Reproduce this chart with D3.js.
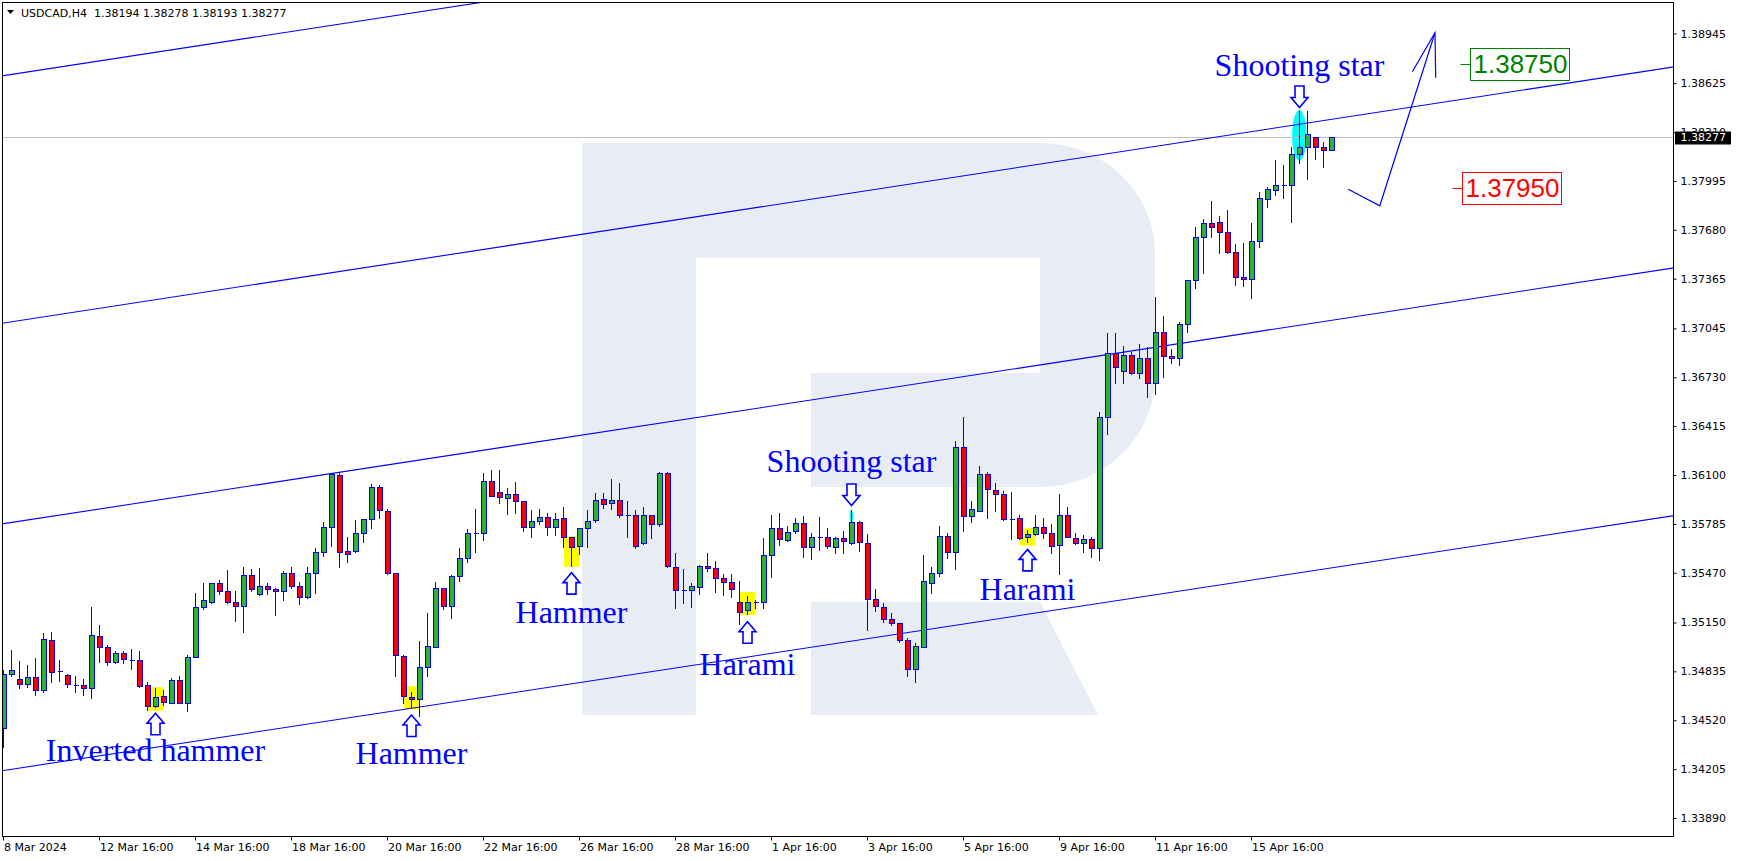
<!DOCTYPE html>
<html><head><meta charset="utf-8">
<script src="https://cdn.jsdelivr.net/npm/d3@7"></script>
<style>html,body{margin:0;padding:0;background:#fff;overflow:hidden}svg{display:block}</style>
</head><body>
<svg id="chart" width="1737" height="861"></svg>
<script>
// ---------------- DATA ----------------
const headerSymbol = "USDCAD,H4";
const headerOHLC = ["1.38194", "1.38278", "1.38193", "1.38277"];

const opens = [1.34468,1.34816,1.34783,1.34751,1.34796,1.34715,1.35037,1.34836,1.34809,1.34747,
1.34745,1.34725,1.35065,1.34994,1.34897,1.34951,1.34911,1.34906,1.34745,1.34614,
1.34676,1.34633,1.34779,1.34633,1.34930,1.35247,1.35284,1.35402,1.35351,1.35284,
1.35256,1.35454,1.35333,1.35385,1.35363,1.35351,1.35467,1.35383,1.35312,1.35467,
1.35606,1.35763,1.36100,1.35608,1.35608,1.35724,1.35814,1.36025,1.35868,1.35467,
1.34932,1.34667,1.34655,1.34865,1.34994,1.35370,1.35258,1.35449,1.35563,1.35729,
1.35729,1.36059,1.35988,1.35954,1.35976,1.35932,1.35763,1.35802,1.35832,1.35767,
1.35821,1.35698,1.35645,1.35756,1.35810,1.35943,1.35918,1.35937,1.35842,1.35844,
1.35660,1.35840,1.35782,1.36111,1.35509,1.35357,1.35357,1.35376,1.35514,1.35499,
1.35434,1.35409,1.35280,1.35230,1.35280,1.35280,1.35585,1.35756,1.35681,1.35739,
1.35789,1.35634,1.35703,1.35703,1.35638,1.35696,1.35664,1.35795,1.35664,1.35299,
1.35247,1.35170,1.35144,1.35037,1.34848,1.34994,1.35402,1.35466,1.35707,1.35606,
1.36278,1.35836,1.35870,1.36107,1.36004,1.35976,1.35816,1.35821,1.35698,1.35718,
1.35767,1.35724,1.35649,1.35840,1.35692,1.35660,1.35686,1.35628,1.36476,1.36884,
1.36772,1.36873,1.36760,1.36852,1.36691,1.37019,1.36867,1.36852,1.37071,1.37357,
1.37634,1.37722,1.37728,1.37664,1.37535,1.37374,1.37361,1.37608,1.37880,1.37937,
1.37967,1.37967,1.38166,1.38212,1.38276,1.38212,1.38194];
const highs = [1.34844,1.34972,1.34904,1.34876,1.34919,1.35080,1.35088,1.34908,1.34818,1.34805,
1.34783,1.35247,1.35134,1.35005,1.34966,1.34966,1.34977,1.34966,1.34764,1.34725,
1.34715,1.34790,1.34805,1.34938,1.35338,1.35402,1.35406,1.35424,1.35488,1.35353,
1.35509,1.35494,1.35499,1.35402,1.35370,1.35479,1.35509,1.35409,1.35509,1.35628,
1.35799,1.36115,1.36122,1.35698,1.35810,1.35819,1.36042,1.36038,1.35881,1.35469,
1.34938,1.34704,1.35033,1.35213,1.35409,1.35372,1.35456,1.35628,1.35750,1.35879,
1.36115,1.36132,1.36132,1.36019,1.36053,1.35934,1.35875,1.35879,1.35857,1.35857,
1.35892,1.35703,1.35758,1.35875,1.35986,1.35986,1.36072,1.36051,1.35932,1.35875,
1.35896,1.35842,1.36122,1.36122,1.35600,1.35492,1.35402,1.35520,1.35600,1.35548,
1.35462,1.35462,1.35417,1.35320,1.35295,1.35692,1.35842,1.35853,1.35772,1.35821,
1.35836,1.35724,1.35827,1.35761,1.35698,1.35739,1.35875,1.35806,1.35718,1.35368,
1.35273,1.35209,1.35149,1.35048,1.35015,1.35585,1.35509,1.35774,1.35724,1.36321,
1.36472,1.35933,1.36160,1.36117,1.36046,1.35999,1.35988,1.35842,1.35746,1.35842,
1.35821,1.35784,1.35978,1.35896,1.35728,1.35713,1.35703,1.36508,1.37015,1.37017,
1.36931,1.36895,1.36942,1.36927,1.37249,1.37127,1.36912,1.37084,1.37357,1.37700,
1.37750,1.37866,1.37769,1.37808,1.37586,1.37597,1.37722,1.37921,1.37958,1.38130,
1.38098,1.38216,1.38448,1.38446,1.38278,1.38244,1.38278];
const lows = [1.34350,1.34805,1.34730,1.34736,1.34683,1.34704,1.34768,1.34775,1.34736,1.34704,
1.34683,1.34661,1.34897,1.34876,1.34887,1.34891,1.34848,1.34736,1.34586,1.34603,
1.34618,1.34629,1.34629,1.34582,1.34925,1.35235,1.35278,1.35331,1.35278,1.35162,
1.35091,1.35353,1.35327,1.35333,1.35200,1.35295,1.35370,1.35271,1.35305,1.35340,
1.35578,1.35643,1.35509,1.35542,1.35602,1.35671,1.35756,1.35821,1.35462,1.34805,
1.34629,1.34607,1.34549,1.34805,1.34990,1.35239,1.35181,1.35419,1.35542,1.35606,
1.35681,1.35963,1.35922,1.35847,1.35857,1.35741,1.35698,1.35782,1.35714,1.35716,
1.35638,1.35516,1.35589,1.35638,1.35799,1.35885,1.35879,1.35832,1.35698,1.35632,
1.35658,1.35692,1.35772,1.35509,1.35241,1.35278,1.35252,1.35331,1.35484,1.35348,
1.35327,1.35316,1.35140,1.35204,1.35241,1.35241,1.35441,1.35649,1.35677,1.35728,
1.35574,1.35557,1.35617,1.35628,1.35595,1.35595,1.35653,1.35613,1.35101,1.35226,
1.35155,1.35134,1.35026,1.34805,1.34768,1.34992,1.35342,1.35449,1.35567,1.35492,
1.35741,1.35799,1.35868,1.35825,1.35870,1.35810,1.35686,1.35686,1.35671,1.35714,
1.35696,1.35595,1.35460,1.35698,1.35656,1.35606,1.35574,1.35552,1.36364,1.36691,
1.36691,1.36751,1.36723,1.36601,1.36622,1.36729,1.36820,1.36809,1.37024,1.37307,
1.37404,1.37636,1.37528,1.37533,1.37324,1.37320,1.37243,1.37567,1.37825,1.37904,
1.37887,1.37732,1.38113,1.38005,1.38134,1.38083,1.38193];
const closes = [1.34818,1.34844,1.34751,1.34796,1.34715,1.35041,1.34833,1.34838,1.34751,1.34747,
1.34725,1.35069,1.34994,1.34893,1.34951,1.34912,1.34910,1.34743,1.34614,1.34667,
1.34640,1.34779,1.34633,1.34930,1.35247,1.35293,1.35402,1.35351,1.35284,1.35256,
1.35454,1.35363,1.35385,1.35363,1.35351,1.35467,1.35385,1.35312,1.35467,1.35606,
1.35763,1.36104,1.35606,1.35589,1.35724,1.35814,1.36025,1.35875,1.35467,1.34938,
1.34676,1.34655,1.34865,1.35000,1.35370,1.35258,1.35449,1.35563,1.35729,1.35728,
1.36059,1.35967,1.35956,1.35976,1.35930,1.35763,1.35802,1.35832,1.35763,1.35814,
1.35698,1.35634,1.35756,1.35802,1.35937,1.35913,1.35937,1.35840,1.35842,1.35645,
1.35840,1.35782,1.36111,1.35516,1.35359,1.35357,1.35385,1.35514,1.35499,1.35434,
1.35409,1.35363,1.35220,1.35280,1.35281,1.35585,1.35756,1.35688,1.35735,1.35789,
1.35634,1.35703,1.35703,1.35645,1.35696,1.35673,1.35795,1.35666,1.35299,1.35256,
1.35170,1.35144,1.35037,1.34848,1.34998,1.35419,1.35466,1.35707,1.35606,1.36278,
1.35838,1.35879,1.36107,1.36008,1.35976,1.35814,1.35816,1.35692,1.35718,1.35767,
1.35728,1.35643,1.35840,1.35703,1.35660,1.35688,1.35628,1.36476,1.36884,1.36798,
1.36873,1.36760,1.36852,1.36691,1.37019,1.36869,1.36852,1.37071,1.37357,1.37634,
1.37722,1.37696,1.37664,1.37535,1.37374,1.37361,1.37608,1.37883,1.37941,1.37969,
1.37967,1.38166,1.38212,1.38295,1.38212,1.38194,1.38277];

const yTickValues = [1.38945,1.38625,1.38310,1.37995,1.37680,1.37365,1.37045,1.36730,1.36415,
  1.36100,1.35785,1.35470,1.35150,1.34835,1.34520,1.34205,1.33890];
const xTickBars = [0,12,24,36,48,60,72,84,96,108,120,132,144,156];
const xTickLabels = ["8 Mar 2024","12 Mar 16:00","14 Mar 16:00","18 Mar 16:00","20 Mar 16:00",
  "22 Mar 16:00","26 Mar 16:00","28 Mar 16:00","1 Apr 16:00","3 Apr 16:00","5 Apr 16:00",
  "9 Apr 16:00","11 Apr 16:00","15 Apr 16:00"];
const currentPrice = 1.38277;

// channel lines: [barIndex, price] end points
const channelStarts = [[-1,1.38665],[-1,1.37071],[-1,1.35778],[-1,1.34188]];
const channelEnds   = [[210,1.40333],[210,1.38739],[210,1.37444],[210,1.35847]];

// candlestick pattern annotations
const patternLabels = ["Inverted hammer","Hammer","Hammer","Harami","Shooting star","Harami","Shooting star"];
const patternBars = [19,51,71,93,106,128,162];
const patternArrowDir = ["up","up","up","up","down","up","down"];
const patternArrowPrice = [1.34565,1.34554,1.35471,1.35155,1.36042,1.35621,1.38607];
const patternTextPrice = [1.34259,1.34236,1.35148,1.34811,1.36119,1.35295,1.38671];

const yellowBars = [19,51,71,93,128];
const yellowHigh = [1.34732,1.34740,1.35707,1.35346,1.35759];
const yellowLow  = [1.34581,1.34590,1.35509,1.35198,1.35645];
const cyanBars = [162,106];
const cyanHigh = [1.38452,1.35875];
const cyanLow  = [1.38125,1.35793];

// forecast
const forecastBars = [168.16,172.1,179.0];
const forecastPrices = [1.37941,1.37835,1.38950];
const targetPrices = [1.38750,1.37950];
const targetLabels = ["1.38750","1.37950"];

// ---------------- DRAW ----------------
const W = 1737, H = 861;
const L = 2.5, R = 1673.5, T = 2.5, B = 836.5;
const svg = d3.select("#chart");
const x = d3.scaleLinear().domain([0, 166]).range([3, 1331]);
const y = d3.scaleLinear().domain([1.33890, 1.38945]).range([818, 33.5]);

svg.append("rect").attr("width",W).attr("height",H).attr("fill","#fff");
const defs = svg.append("defs");
defs.append("clipPath").attr("id","plotclip").append("rect")
  .attr("x",L).attr("y",T).attr("width",R-L).attr("height",B-T);

const plot = svg.append("g").attr("clip-path","url(#plotclip)");

// watermark R
plot.append("path")
  .attr("d","M582,143 H1040 A115,110 0 0 1 1155,253 V377 A115,110 0 0 1 1040,487 H811 V373 H1040 V258 H696 V715 H582 Z M811,602 H1040 L1098,715 H811 Z")
  .attr("fill","#e8edf5");

// yellow highlight boxes
plot.selectAll("rect.yb").data(yellowBars).join("rect").attr("class","yb")
  .attr("x",d=>x(d)-7).attr("width",15.5)
  .attr("y",(d,i)=>y(yellowHigh[i])).attr("height",(d,i)=>y(yellowLow[i])-y(yellowHigh[i]))
  .attr("fill","#ffff00");
// cyan ellipses
const cyanRx = [7.2,1.8];
plot.selectAll("ellipse.cy").data(cyanBars).join("ellipse").attr("class","cy")
  .attr("cx",d=>x(d)+0.3).attr("rx",(d,i)=>cyanRx[i])
  .attr("cy",(d,i)=>(y(cyanHigh[i])+y(cyanLow[i]))/2)
  .attr("ry",(d,i)=>(y(cyanLow[i])-y(cyanHigh[i]))/2)
  .attr("fill","#00ffff");

// current price line
plot.append("line").attr("x1",L).attr("x2",R)
  .attr("y1",Math.round(y(currentPrice))+0.5).attr("y2",Math.round(y(currentPrice))+0.5)
  .attr("stroke","#c0c0c0").attr("stroke-width",1);

// channel lines
plot.selectAll("line.ch").data(channelStarts).join("line").attr("class","ch")
  .attr("x1",d=>x(d[0])).attr("y1",d=>y(d[1]))
  .attr("x2",(d,i)=>x(channelEnds[i][0])).attr("y2",(d,i)=>y(channelEnds[i][1]))
  .attr("stroke","#0000ff").attr("stroke-width",1.1);

// candles
const bars = d3.range(opens.length).map(i=>({i,o:opens[i],h:highs[i],l:lows[i],c:closes[i]}));
const cg = plot.append("g").attr("shape-rendering","crispEdges");
const cs = cg.selectAll("g.c").data(bars).join("g").attr("class","c");
cs.append("line")
  .attr("x1",d=>x(d.i)+0.5).attr("x2",d=>x(d.i)+0.5)
  .attr("y1",d=>Math.round(y(d.h))).attr("y2",d=>Math.round(y(d.l))+1)
  .attr("stroke","#0000ff").attr("stroke-width",1);
cs.append("path")
  .attr("d",d=>{
    const cx = x(d.i);
    const yt = Math.round(y(Math.max(d.o,d.c)))+0.5;
    const yb = Math.round(y(Math.min(d.o,d.c)))+0.5;
    return `M${cx-1.5},${yt}H${cx+3.5}V${yb}H${cx-1.5}Z`;
  })
  .attr("fill",d=>d.c>d.o?"#2db32d":(d.c<d.o?"#ff0000":"none"))
  .attr("stroke","#0000ff").attr("stroke-width",1);

// pattern arrows & labels
const ann = plot.append("g");
patternBars.forEach((b,i)=>{
  const cx = x(b)+0.5, t = y(patternArrowPrice[i]);
  let d;
  if (patternArrowDir[i]==="up") {
    d = `M${cx},${t} L${cx+8.5},${t+10} L${cx+4.5},${t+10} L${cx+4.5},${t+21.5} L${cx-4.5},${t+21.5} L${cx-4.5},${t+10} L${cx-8.5},${t+10} Z`;
  } else {
    d = `M${cx-4.5},${t} L${cx+4.5},${t} L${cx+4.5},${t+11.5} L${cx+8.5},${t+11.5} L${cx},${t+21.5} L${cx-8.5},${t+11.5} L${cx-4.5},${t+11.5} Z`;
  }
  ann.append("path").attr("d",d).attr("fill","#fff").attr("stroke","#0000ff").attr("stroke-width",1.6)
    .attr("stroke-linejoin","miter");
  ann.append("text").attr("x",cx).attr("y",y(patternTextPrice[i]))
    .attr("text-anchor","middle").attr("font-family","'Liberation Serif','Times New Roman',serif")
    .attr("font-size",32).attr("fill","#0000ff").text(patternLabels[i]);
});

// forecast path
const fpts = forecastBars.map((b,i)=>[x(b),y(forecastPrices[i])]);
plot.append("path").attr("d",d3.line()(fpts)).attr("fill","none").attr("stroke","#0000ff").attr("stroke-width",1.2);
const tip = fpts[fpts.length-1];
plot.append("path").attr("d",`M${tip[0]-22.7},${tip[1]+39} L${tip[0]},${tip[1]} L${tip[0]+0.7},${tip[1]+45}`)
  .attr("fill","none").attr("stroke","#0000ff").attr("stroke-width",1.2);

// target labels
const targetColors = ["#008000","#ff0000"];
const targetBoxX = [1470.5,1462.5];
targetPrices.forEach((p,i)=>{
  const cy = y(p), bx = targetBoxX[i];
  plot.append("line").attr("x1",bx-10).attr("x2",bx).attr("y1",Math.round(cy)+0.5).attr("y2",Math.round(cy)+0.5)
    .attr("stroke",targetColors[i]).attr("stroke-width",1);
  plot.append("rect").attr("x",bx).attr("y",Math.round(cy-16)+0.5).attr("width",99).attr("height",32)
    .attr("fill","#fff").attr("stroke",targetColors[i]).attr("stroke-width",1);
  plot.append("text").attr("x",bx+3).attr("y",cy+9.5)
    .attr("font-family","'Liberation Sans',Arial,sans-serif").attr("font-size",26)
    .attr("fill",targetColors[i]).text(targetLabels[i]);
});

// frame
svg.append("rect").attr("x",L).attr("y",T).attr("width",R-L).attr("height",B-T)
  .attr("fill","none").attr("stroke","#000").attr("stroke-width",1).attr("shape-rendering","crispEdges");

// right axis
const yAxis = d3.axisRight(y).tickValues(yTickValues).tickFormat(d3.format(".5f")).tickSize(3).tickPadding(4);
const ya = svg.append("g").attr("transform",`translate(${R},0)`).call(yAxis);
ya.select(".domain").remove();
ya.selectAll("text").attr("font-family","'DejaVu Sans',Tahoma,sans-serif").attr("font-size",11).attr("fill","#000");
ya.selectAll("line").attr("stroke","#000");

// current price box
const cpy = y(currentPrice);
svg.append("rect").attr("x",1675).attr("y",Math.round(cpy)-5.5).attr("width",56).attr("height",13).attr("fill","#000");
svg.append("text").attr("x",R+7).attr("y",cpy).attr("dy","0.36em")
  .attr("font-family","'DejaVu Sans',Tahoma,sans-serif").attr("font-size",11).attr("fill","#fff")
  .text(d3.format(".5f")(currentPrice));

// bottom axis
const xAxis = d3.axisBottom(x).tickValues(xTickBars).tickFormat((d,i)=>xTickLabels[i]).tickSize(4).tickPadding(3);
const xa = svg.append("g").attr("transform",`translate(0,${B})`).call(xAxis);
xa.select(".domain").remove();
xa.selectAll("text").attr("text-anchor","start").attr("x",0.5)
  .attr("font-family","'DejaVu Sans',Tahoma,sans-serif").attr("font-size",11).attr("fill","#000");
xa.selectAll("line").attr("stroke","#000");

// header
svg.append("path").attr("d","M7,10 L14,10 L10.5,14 Z").attr("fill","#000");
svg.append("text").attr("x",21).attr("y",17).attr("xml:space","preserve").style("white-space","pre")
  .attr("font-family","'DejaVu Sans',Tahoma,sans-serif").attr("font-size",11).attr("fill","#000")
  .text(headerSymbol + "  " + headerOHLC.join(" "));
</script>
</body></html>
